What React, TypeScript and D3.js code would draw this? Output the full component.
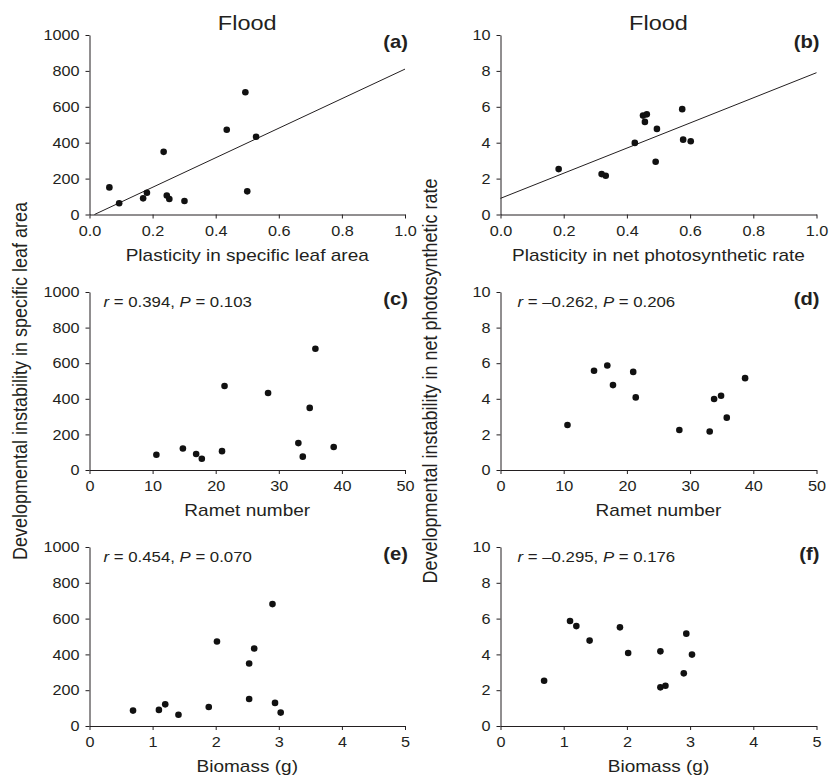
import React, { useEffect, useRef } from 'react';
import * as d3 from 'd3';

// one entry per plant, same order in every array
const slaInstability = [86, 90, 121, 63, 106, 472, 349, 151, 433, 681, 129, 75];
const pnInstability = [2.53, 5.87, 5.58, 4.77, 5.51, 4.08, 4.17, 2.16, 2.25, 2.94, 5.16, 3.99];
const slaPlasticity = [0.253, 0.170, 0.182, 0.094, 0.245, 0.435, 0.235, 0.063, 0.528, 0.494, 0.500, 0.301];
const pnPlasticity = [0.184, 0.575, 0.463, 0.495, 0.451, 0.602, 0.578, 0.333, 0.320, 0.491, 0.457, 0.425];
const rametNumber = [10.6, 16.9, 14.8, 17.8, 21.0, 21.4, 34.9, 33.1, 28.3, 35.8, 38.7, 33.8];
const biomass = [0.69, 1.10, 1.20, 1.41, 1.89, 2.02, 2.53, 2.53, 2.61, 2.90, 2.94, 3.03];

// regression lines [intercept, slope]
const slaFit = [-13, 823];
const pnFit = [0.9, 7.0];

const plasticityTicks = [0, 0.2, 0.4, 0.6, 0.8, 1.0];
const rametTicks = [0, 10, 20, 30, 40, 50];
const biomassTicks = [0, 1, 2, 3, 4, 5];
const slaTicks = [0, 200, 400, 600, 800, 1000];
const pnTicks = [0, 2, 4, 6, 8, 10];

const stats = {
  c: ['0.394', '0.103'],
  d: ['\u20130.262', '0.206'],
  e: ['0.454', '0.070'],
  f: ['\u20130.295', '0.176'],
};

const FONT = '"Liberation Sans", Arial, sans-serif';
const INK = '#231f20';
const SX = 1.12; // the original type is a little wider than Arial

const colX = [[89.5, 405], [500.5, 816.5]];
const rowY = [[35, 214.5], [292, 470], [547, 726]];

export default function App() {
  const ref = useRef<SVGSVGElement>(null);

  useEffect(() => {
    const svg = d3.select(ref.current);
    svg.selectAll('*').remove();

    const panels = [
      { id: 'a', col: 0, row: 0, xs: slaPlasticity, ys: slaInstability, xd: [0, 1], xt: plasticityTicks, fmt: '.1f', yd: [0, 1000], yt: slaTicks, title: 'Plasticity in specific leaf area', fit: slaFit },
      { id: 'b', col: 1, row: 0, xs: pnPlasticity, ys: pnInstability, xd: [0, 1], xt: plasticityTicks, fmt: '.1f', yd: [0, 10], yt: pnTicks, title: 'Plasticity in net photosynthetic rate', fit: pnFit },
      { id: 'c', col: 0, row: 1, xs: rametNumber, ys: slaInstability, xd: [0, 50], xt: rametTicks, fmt: 'd', yd: [0, 1000], yt: slaTicks, title: 'Ramet number', fit: null },
      { id: 'd', col: 1, row: 1, xs: rametNumber, ys: pnInstability, xd: [0, 50], xt: rametTicks, fmt: 'd', yd: [0, 10], yt: pnTicks, title: 'Ramet number', fit: null },
      { id: 'e', col: 0, row: 2, xs: biomass, ys: slaInstability, xd: [0, 5], xt: biomassTicks, fmt: 'd', yd: [0, 1000], yt: slaTicks, title: 'Biomass (g)', fit: null },
      { id: 'f', col: 1, row: 2, xs: biomass, ys: pnInstability, xd: [0, 5], xt: biomassTicks, fmt: 'd', yd: [0, 10], yt: pnTicks, title: 'Biomass (g)', fit: null },
    ];

    panels.forEach((p) => {
      const [x0, x1] = colX[p.col];
      const [y0, y1] = rowY[p.row];
      const x = d3.scaleLinear().domain(p.xd).range([x0, x1]);
      const y = d3.scaleLinear().domain(p.yd).range([y1, y0]);
      const g = svg.append('g');

      const yAxis = g.append('g').attr('transform', `translate(${x0},0)`)
        .call(d3.axisLeft(y).tickValues(p.yt).tickFormat(d3.format('d')).tickSize(4).tickSizeOuter(0).tickPadding(6));
      const xAxis = g.append('g').attr('transform', `translate(0,${y1})`)
        .call(d3.axisBottom(x).tickValues(p.xt).tickFormat(d3.format(p.fmt)).tickSize(4).tickSizeOuter(0).tickPadding(7));
      [yAxis, xAxis].forEach((a) => {
        a.select('.domain').attr('stroke', INK);
        a.selectAll('line').attr('stroke', INK);
        a.selectAll('text').attr('fill', INK).style('font-family', FONT).style('font-size', '14.5px');
      });

      // fitted line, clipped at y = 0
      if (p.fit) {
        const [a, b] = p.fit;
        const xStart = Math.max(p.xd[0], -a / b);
        g.append('line')
          .attr('x1', x(xStart)).attr('y1', y(a + b * xStart))
          .attr('x2', x(p.xd[1])).attr('y2', y(a + b * p.xd[1]))
          .attr('stroke', INK).attr('stroke-width', 1);
      }

      g.selectAll('circle.pt').data(p.xs).enter().append('circle')
        .attr('class', 'pt')
        .attr('cx', (d) => x(d))
        .attr('cy', (_, i) => y(p.ys[i]))
        .attr('r', 3.3)
        .attr('fill', '#111');

      g.append('text')
        .attr('x', (x0 + x1) / 2).attr('y', y1 + 46)
        .attr('text-anchor', 'middle')
        .style('font-family', FONT).style('font-size', '17px').attr('fill', INK)
        .text(p.title);

      g.append('text')
        .attr('x', x1 + 3).attr('y', y0 + 13)
        .attr('text-anchor', 'end')
        .style('font-family', FONT).style('font-size', '18px').style('font-weight', 'bold').attr('fill', INK)
        .text(`(${p.id})`);

      const s = stats[p.id as keyof typeof stats];
      if (s) {
        const t = g.append('text')
          .attr('x', x0 + (p.col ? 17 : 14)).attr('y', y0 + 15)
          .style('font-family', FONT).style('font-size', '15px').attr('fill', INK);
        t.append('tspan').style('font-style', 'italic').text('r');
        t.append('tspan').text(` = ${s[0]}, `);
        t.append('tspan').style('font-style', 'italic').text('P');
        t.append('tspan').text(` = ${s[1]}`);
      }
    });

    colX.forEach(([x0, x1]) => {
      svg.append('text')
        .attr('x', (x0 + x1) / 2).attr('y', 30)
        .attr('text-anchor', 'middle')
        .style('font-family', FONT).style('font-size', '21px').attr('fill', INK)
        .text('Flood');
    });

    // widen every horizontal label around its own anchor
    svg.selectAll<SVGTextElement, unknown>('text').each(function () {
      const el = d3.select(this);
      const tx = +(el.attr('x') || 0);
      const ty = +(el.attr('y') || 0);
      el.attr('x', 0).attr('y', 0).attr('transform', `translate(${tx},${ty}) scale(${SX},1)`);
    });

    [['Developmental instability in specific leaf area', 27], ['Developmental instability in net photosynthetic rate', 437]].forEach(([label, bx]) => {
      svg.append('text')
        .attr('transform', `translate(${bx},381) scale(${SX},1) rotate(-90)`)
        .attr('text-anchor', 'middle')
        .style('font-family', FONT).style('font-size', '18px').attr('fill', INK)
        .text(label as string);
    });
  }, []);

  return (
    <div style={{ position: 'absolute', left: 0, top: 0 }}>
      <svg ref={ref} width={837} height={778} style={{ display: 'block', background: '#fff' }} />
    </div>
  );
}
